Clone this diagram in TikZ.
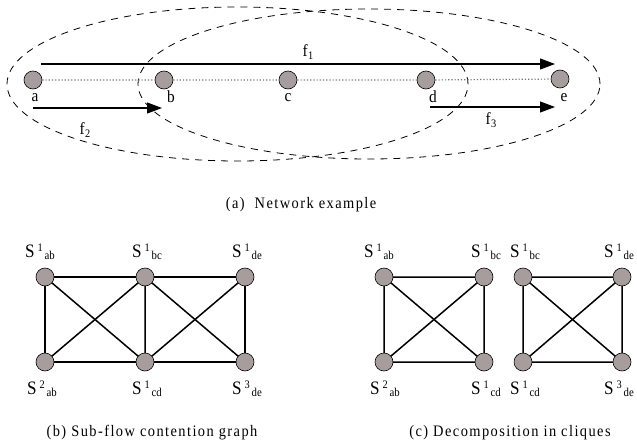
\documentclass[tikz,border=0pt]{standalone}
\usepackage{fontspec}
\setmainfont{Liberation Serif}[FakeStretch=0.9]
\usetikzlibrary{arrows.meta}
\definecolor{nodegray}{RGB}{167,157,157}
\newcommand{\slab}[2]{{\fontsize{19}{19}\selectfont S}\kern3pt\raisebox{6pt}{\fontsize{11.5}{11.5}\selectfont #1}\kern1.8pt\raisebox{-2pt}{\fontsize{12}{12}\selectfont #2}}
\newcommand{\flab}[1]{f\kern0.3pt\raisebox{-3.5pt}{\fontsize{11.5}{11.5}\selectfont #1}}
\tikzset{
  vtx/.style={circle,draw=black,line width=0.6pt,fill=nodegray,minimum size=18pt,inner sep=0pt},
  txt/.style={inner sep=0pt,font=\fontsize{17}{17}\selectfont},
  slabel/.style={inner sep=0pt},
  captxt/.style={inner sep=0pt,font=\fontsize{16}{16}\selectfont\addfontfeature{LetterSpace=9}},
  edge/.style={line width=1.5pt,black},
  flow/.style={line width=1.1pt,-{Triangle[length=15pt,width=11pt]}},
  ell/.style={line width=0.8pt,dash pattern=on 7pt off 6pt},
}
\begin{document}
\begin{tikzpicture}[x=1pt,y=-1pt]
\useasboundingbox (0,0) rectangle (637,447);
% ---------- (a) network ----------
\draw[ell] (237.5,84) ellipse [x radius=230.5pt, y radius=77pt];
\draw[ell] (369,84) ellipse [x radius=231pt, y radius=75pt];
\node[vtx] (a) at (33,80) {};
\node[vtx] (b) at (164,80) {};
\node[vtx] (c) at (288,80) {};
\node[vtx] (d) at (426,80) {};
\node[vtx] (e) at (560,79) {};
\draw[black!55,dotted,line width=1.2pt] (a) -- (b) -- (c) -- (d) -- (e);
\node[txt] (la) at (35,98) {a};
\node[txt] (lb) at (171,97) {b};
\node[txt] (lc) at (288,98) {c};
\node[txt] (ld) at (433,97) {d};
\node[txt] (le) at (564,98) {e};
\coordinate (f1s) at (41,64);
\coordinate (f1e) at (555,64);
\coordinate (f2s) at (33,108);
\coordinate (f2e) at (162,108);
\coordinate (f3s) at (430,107);
\coordinate (f3e) at (555,107);
\draw[flow] (f1s) -- (f1e);
\draw[flow] (f2s) -- (f2e);
\draw[flow] (f3s) -- (f3e);
\node[txt] (lf1) at (308,52) {\flab{1}};
\node[txt] (lf2) at (85,130) {\flab{2}};
\node[txt] (lf3) at (491,120) {\flab{3}};
\node[captxt] (capa) at (301,205) {(a)\ \ Network example};
% ---------- (b) contention graph ----------
\coordinate (p1) at (45,277);
\coordinate (p2) at (145,277);
\coordinate (p3) at (245,277);
\coordinate (p4) at (45,362);
\coordinate (p5) at (145,362);
\coordinate (p6) at (245,362);
\draw[edge] (p1) -- (p2) -- (p3) -- (p6) -- (p5) -- (p4) -- cycle;
\draw[edge] (p2) -- (p5) (p1) -- (p5) (p4) -- (p2) (p2) -- (p6) (p5) -- (p3);
\node[vtx] (b1) at (p1) {};
\node[vtx] (b2) at (p2) {};
\node[vtx] (b3) at (p3) {};
\node[vtx] (b4) at (p4) {};
\node[vtx] (b5) at (p5) {};
\node[vtx] (b6) at (p6) {};
\node[slabel] (lb1) at (40,252) {\slab{1}{ab}};
\node[slabel] (lb2) at (147,252) {\slab{1}{bc}};
\node[slabel] (lb3) at (247,252) {\slab{1}{de}};
\node[slabel] (lb4) at (42,389) {\slab{2}{ab}};
\node[slabel] (lb5) at (147,389) {\slab{1}{cd}};
\node[slabel] (lb6) at (247,389) {\slab{3}{de}};
\node[captxt] (capb) at (152,433) {(b) Sub-flow contention graph};
% ---------- (c) cliques ----------
\coordinate (c1) at (384,277);
\coordinate (c2) at (484,277);
\coordinate (c3) at (384,362);
\coordinate (c4) at (484,362);
\coordinate (d1) at (523,277);
\coordinate (d2) at (622,277);
\coordinate (d3) at (523,362);
\coordinate (d4) at (622,362);
\draw[edge] (c1) -- (c2) -- (c4) -- (c3) -- cycle (c1) -- (c4) (c2) -- (c3);
\draw[edge] (d1) -- (d2) -- (d4) -- (d3) -- cycle (d1) -- (d4) (d2) -- (d3);
\node[vtx] (n1) at (c1) {};
\node[vtx] (n2) at (c2) {};
\node[vtx] (n3) at (c3) {};
\node[vtx] (n4) at (c4) {};
\node[vtx] (m1) at (d1) {};
\node[vtx] (m2) at (d2) {};
\node[vtx] (m3) at (d3) {};
\node[vtx] (m4) at (d4) {};
\node[slabel] (ln1) at (379,252) {\slab{1}{ab}};
\node[slabel] (ln2) at (486,252) {\slab{1}{bc}};
\node[slabel] (ln3) at (385,389) {\slab{2}{ab}};
\node[slabel] (ln4) at (486,389) {\slab{1}{cd}};
\node[slabel] (lm1) at (525,252) {\slab{1}{bc}};
\node[slabel] (lm2) at (619,252) {\slab{1}{de}};
\node[slabel] (lm3) at (525,389) {\slab{1}{cd}};
\node[slabel] (lm4) at (619,389) {\slab{3}{de}};
\node[captxt] (capc) at (510,433) {(c) Decomposition in cliques};
\end{tikzpicture}
\end{document}
